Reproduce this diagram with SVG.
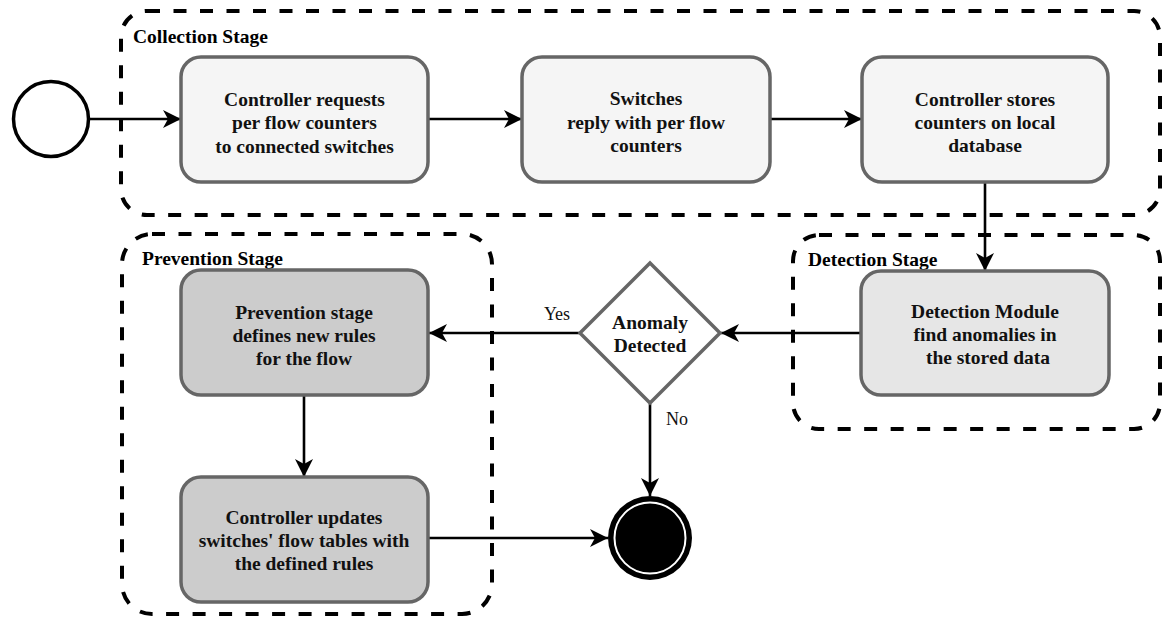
<svg xmlns="http://www.w3.org/2000/svg" width="1164" height="625" viewBox="0 0 1164 625">
  <style>
    .stage { fill: none; stroke: #000; stroke-width: 4; stroke-dasharray: 13 13.5; }
    .stage-label { font-family: "Liberation Serif", "Times New Roman", serif; font-weight: bold; font-size: 19.5px; fill: #000; }
    .box { stroke: #666; stroke-width: 3.5; }
    .collect { fill: #f5f5f5; }
    .detect { fill: #e6e6e6; }
    .prevent { fill: #cccccc; }
    .txt { font-family: "Liberation Serif", "Times New Roman", serif; font-weight: bold; font-size: 19.5px; fill: #111; text-anchor: middle; }
    .edge-label { font-family: "Liberation Serif", "Times New Roman", serif; font-size: 18px; fill: #111; text-anchor: middle; }
    .conn { fill: none; stroke: #000; stroke-width: 2.6; marker-end: url(#arrow); }
  </style>
  <defs>
    <marker id="arrow" markerUnits="userSpaceOnUse" markerWidth="22" markerHeight="22" refX="19" refY="11" orient="auto">
      <path d="M1,2 L19,11 L1,20 L6,11 Z" fill="#000"/>
    </marker>
  </defs>

  <rect width="1164" height="625" fill="#fff"/>

  <!-- stage containers -->
  <g id="collection-stage">
    <rect class="stage" x="121" y="11" width="1039" height="204" rx="26"/>
    <text class="stage-label" x="133" y="43">Collection Stage</text>
  </g>
  <g id="detection-stage">
    <rect class="stage" x="793" y="235" width="367" height="194" rx="26"/>
    <text class="stage-label" x="808" y="266">Detection Stage</text>
  </g>
  <g id="prevention-stage">
    <rect class="stage" x="122" y="234" width="370" height="380" rx="30"/>
    <text class="stage-label" x="142" y="265">Prevention Stage</text>
  </g>

  <!-- connectors -->
  <g id="connectors">
    <line class="conn" x1="90" y1="119" x2="181" y2="119"/>
    <line class="conn" x1="428" y1="119" x2="522" y2="119"/>
    <line class="conn" x1="770" y1="119" x2="862" y2="119"/>
    <line class="conn" x1="985" y1="182" x2="985" y2="271"/>
    <line class="conn" x1="861" y1="333" x2="721" y2="333"/>
    <line class="conn" x1="580" y1="333" x2="429" y2="333"/>
    <line class="conn" x1="304" y1="395" x2="304" y2="477"/>
    <line class="conn" x1="429" y1="538" x2="608" y2="538"/>
    <line class="conn" x1="650" y1="404" x2="650" y2="496"/>
    <text class="edge-label" x="557" y="320">Yes</text>
    <text class="edge-label" x="677" y="425">No</text>
  </g>

  <!-- start event -->
  <g id="start">
    <circle cx="51" cy="119" r="37.5" fill="#fff" stroke="#000" stroke-width="3.5"/>
  </g>

  <!-- collection stage activities -->
  <g id="request-counters">
    <rect class="box collect" x="181" y="57" width="247" height="125" rx="20"/>
    <text class="txt" x="304.5" y="106">Controller requests</text>
    <text class="txt" x="304.5" y="129">per flow counters</text>
    <text class="txt" x="304.5" y="153">to connected switches</text>
  </g>
  <g id="switches-reply">
    <rect class="box collect" x="522" y="57" width="248" height="125" rx="20"/>
    <text class="txt" x="646" y="105">Switches</text>
    <text class="txt" x="646" y="129">reply with per flow</text>
    <text class="txt" x="646" y="152">counters</text>
  </g>
  <g id="store-counters">
    <rect class="box collect" x="862" y="57" width="246" height="125" rx="20"/>
    <text class="txt" x="985" y="106">Controller stores</text>
    <text class="txt" x="985" y="129">counters on local</text>
    <text class="txt" x="985" y="152">database</text>
  </g>

  <!-- detection stage activity -->
  <g id="detection-module">
    <rect class="box detect" x="861" y="271" width="248" height="124" rx="20"/>
    <text class="txt" x="985" y="318">Detection Module</text>
    <text class="txt" x="985" y="341">find anomalies in</text>
    <text class="txt" x="988" y="364">the stored data</text>
  </g>

  <!-- decision -->
  <g id="anomaly-decision">
    <polygon points="650,263 720,333 650,403 580,333" fill="#fff" stroke="#666" stroke-width="3.5"/>
    <text class="txt" x="650" y="329">Anomaly</text>
    <text class="txt" x="650" y="352">Detected</text>
  </g>

  <!-- prevention stage activities -->
  <g id="define-rules">
    <rect class="box prevent" x="181" y="270" width="247" height="125" rx="20"/>
    <text class="txt" x="304" y="319">Prevention stage</text>
    <text class="txt" x="304" y="342">defines new rules</text>
    <text class="txt" x="304" y="365">for the flow</text>
  </g>
  <g id="update-tables">
    <rect class="box prevent" x="181" y="477" width="247" height="125" rx="20"/>
    <text class="txt" x="304" y="524">Controller updates</text>
    <text class="txt" x="304" y="547">switches' flow tables with</text>
    <text class="txt" x="304" y="570">the defined rules</text>
  </g>

  <!-- end event -->
  <g id="end">
    <circle cx="650" cy="538" r="42" fill="#000"/>
    <circle cx="650" cy="538" r="35.5" fill="#000" stroke="#fff" stroke-width="2"/>
  </g>
</svg>
